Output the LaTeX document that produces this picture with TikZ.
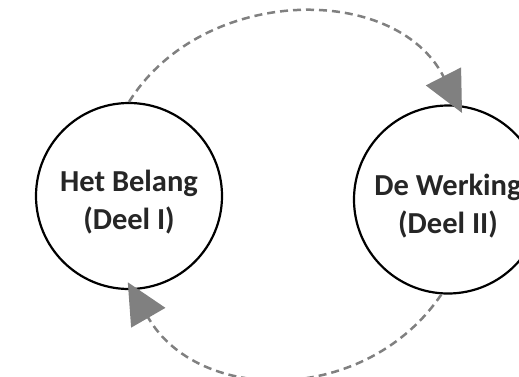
\documentclass[tikz,border=0pt]{standalone}
\usepackage{fontspec}
\setmainfont{Carlito}
\usetikzlibrary{arrows.meta}
\definecolor{arcgray}{HTML}{808080}
\tikzset{
  part/.style={circle, draw=black, line width=2.2pt, fill=white, align=center,
    font=\bfseries\fontsize{30.5}{38}\selectfont, text=black!85},
  flow/.style={draw=arcgray, line width=2.5pt, dash pattern=on 8pt off 5pt,
    -{Triangle[length=41pt,width=39pt,fill=arcgray]}, shorten >=-9pt}
}
\begin{document}
\begin{tikzpicture}[x=1pt,y=-1pt]
\useasboundingbox (0,0) rectangle (519,376);
\node[part, minimum size=186pt, inner sep=0pt] (L) at (129,196) {\rule{0pt}{34pt}Het Belang\\(Deel I)};
\node[part, minimum size=188pt, inner sep=0pt] (R) at (448,199.5) {\rule{0pt}{34pt}De Werking\\(Deel II)};
\draw[flow] (L.90) to[out=58, in=117, looseness=1.07] (R.84);
\draw[flow] (R.266) to[out=236, in=300, looseness=1.1] (L.272);
\end{tikzpicture}
\end{document}
